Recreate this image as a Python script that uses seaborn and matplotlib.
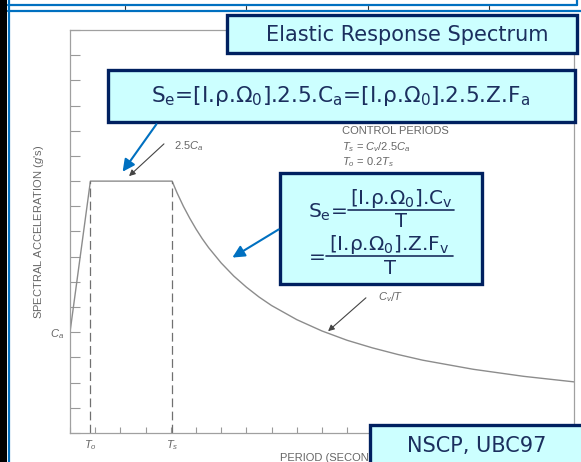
import numpy as np
import pandas as pd
import matplotlib
matplotlib.use("Agg")
import matplotlib.pyplot as plt
from matplotlib.patches import Rectangle
import seaborn as sns

# spectrum (period in tick units, acceleration in tick units)
period = [0.0, 0.81, 4.05, 4.25, 4.5, 4.75, 5.0, 5.25, 5.5, 6.0, 6.5, 7.0, 7.5, 8.0,
          9.0, 10.0, 11.0, 12.0, 13.0, 14.0, 16.0, 18.0, 20.0]
accel = [4.0, 10.0, 10.0, 9.53, 9.0, 8.53, 8.1, 7.71, 7.36, 6.75, 6.23, 5.79, 5.4, 5.06,
         4.5, 4.05, 3.68, 3.38, 3.12, 2.89, 2.53, 2.25, 2.03]
control_periods = [0.81, 4.05]          # T0, Ts
control_labels = ["$T_o$", "$T_s$"]
plateau = 10.0                           # 2.5 Ca
ca_value = 4.0
ca_label = "$C_a$"

df = pd.DataFrame({"period": period, "accel": accel})

sns.set_style("white")
plt.rcParams["font.family"] = ["Liberation Sans", "DejaVu Sans"]
plt.rcParams["mathtext.fontset"] = "custom"
plt.rcParams["mathtext.it"] = "Liberation Sans:italic"
plt.rcParams["mathtext.rm"] = "DejaVu Sans"
plt.rcParams["mathtext.sf"] = "DejaVu Sans"

W, H = 581, 462
fig = plt.figure(figsize=(W / 100, H / 100), dpi=100, facecolor="white")
ax = fig.add_axes([70 / W, (H - 433) / H, (574 - 70) / W, (433 - 30) / H])

grey = "#8c8c8c"
txt_grey = "#666666"
sns.lineplot(data=df, x="period", y="accel", ax=ax, color=grey, lw=1.0, sort=False)
ax.vlines(control_periods, 0, plateau, colors="#707070", linestyles=(0, (7, 3.5)), lw=0.9)

ax.set_xlim(0, 20)
ax.set_ylim(0, 16)
ax.xaxis.remove_overlapping_locs = False
ax.yaxis.remove_overlapping_locs = False
ax.set_xticks(range(21), [""] * 21)
ax.set_yticks(range(17), [""] * 17)
ax.set_xticks(control_periods, control_labels, minor=True)
ax.set_yticks([ca_value], [ca_label], minor=True)
ax.tick_params(bottom=True, left=True, which="both")
ax.tick_params(axis="x", which="major", direction="in", length=4, width=0.8, color="#999999")
ax.tick_params(axis="y", which="major", direction="in", length=7, width=0.8, color="#999999")
ax.tick_params(which="minor", length=0, labelsize=8, labelcolor=txt_grey, pad=4)
for s in ax.spines.values():
    s.set_color("#a0a0a0")
    s.set_linewidth(0.9)
ax.set_xlabel("PERIOD (SECONDS)", fontsize=8, color=txt_grey)
ax.xaxis.set_label_coords(0.523, -0.05)
ax.set_ylabel("SPECTRAL ACCELERATION ($g$'s)", fontsize=8, color=txt_grey)
ax.yaxis.set_label_coords(-0.047, 0.5)

# overlay in pixel coordinates for slide decorations
ov = fig.add_axes([0, 0, 1, 1], zorder=5)
ov.set_xlim(0, W)
ov.set_ylim(H, 0)
ov.axis("off")
ov.patch.set_alpha(0)

blue = "#0070C0"
navy = "#002060"
face = "#CCFFFF"
tcol = "#1b2f5e"

# slide frame
ov.add_patch(Rectangle((0, 0), 7, H, color="black", lw=0))
ov.plot([8.5, 8.5], [0, H], color=blue, lw=1.6)
ov.plot([8, 577], [5, 5], color=blue, lw=1.6)
ov.plot([577, 577], [0, 5], color=blue, lw=1.6)
ov.plot([8, W], [11, 11], color=blue, lw=1.6)
for xt in [125, 246, 368, 489]:
    ov.plot([xt, xt], [6, 9], color="#333333", lw=0.8)

def box(x0, y0, x1, y1):
    ov.add_patch(Rectangle((x0, y0), x1 - x0, y1 - y0, facecolor=face,
                           edgecolor=navy, lw=2.4, zorder=3))

def navy_text(x, y, s, size, ha="center", va="center"):
    ov.text(x, y, s, ha=ha, va=va, fontsize=size, color=tcol,
            family="DejaVu Sans", zorder=4)

box(227, 15, 577, 53)
navy_text(407, 35, "Elastic Response Spectrum", 15)

box(108, 70, 575, 122)
navy_text(340, 96, r"S$_\mathrm{e}$=[I.ρ.Ω$_\mathrm{0}$].2.5.C$_\mathrm{a}$=[I.ρ.Ω$_\mathrm{0}$].2.5.Z.F$_\mathrm{a}$", 15.6)

box(280, 173, 482, 284)
navy_text(347, 218, r"S$_\mathrm{e}$=", 14.5, ha="right", va="baseline")
navy_text(401, 204, r"[I.ρ.Ω$_\mathrm{0}$].C$_\mathrm{v}$", 14.5, va="baseline")
ov.plot([348, 454], [210, 210], color=tcol, lw=1.2, zorder=4)
navy_text(401, 227, "T", 14, va="baseline")
navy_text(326, 263, "=", 14.5, ha="right", va="baseline")
navy_text(389, 250, r"[I.ρ.Ω$_\mathrm{0}$].Z.F$_\mathrm{v}$", 14.5, va="baseline")
ov.plot([326, 453], [256, 256], color=tcol, lw=1.2, zorder=4)
navy_text(390, 274, "T", 14, va="baseline")

box(370, 425, 590, 475)
navy_text(477, 446, "NSCP, UBC97", 15)

# chart annotations
ov.text(174, 146, "2.5$C_a$", ha="left", va="center", fontsize=8, color=txt_grey)
ov.text(342, 131, "CONTROL PERIODS", ha="left", va="center", fontsize=8, color=txt_grey)
ov.text(342, 147, "$T_s$ = $C_v$/2.5$C_a$", ha="left", va="center", fontsize=8, color=txt_grey)
ov.text(342, 162, "$T_o$ = 0.2$T_s$", ha="left", va="center", fontsize=8, color=txt_grey)
ov.text(378, 297, "$C_v/T$", ha="left", va="center", fontsize=8, color=txt_grey)

ov.annotate("", xy=(127, 178), xytext=(166, 142),
            arrowprops=dict(arrowstyle="-|>", color="#444444", lw=0.8, mutation_scale=9))
ov.annotate("", xy=(326, 333), xytext=(368, 296),
            arrowprops=dict(arrowstyle="-|>", color="#444444", lw=0.8, mutation_scale=9))
ov.annotate("", xy=(121, 174), xytext=(158, 122),
            arrowprops=dict(arrowstyle="-|>", color=blue, lw=1.5, mutation_scale=18))
ov.annotate("", xy=(230, 259), xytext=(281, 228),
            arrowprops=dict(arrowstyle="-|>", color=blue, lw=1.5, mutation_scale=18))

fig.savefig("out.png", dpi=100)
